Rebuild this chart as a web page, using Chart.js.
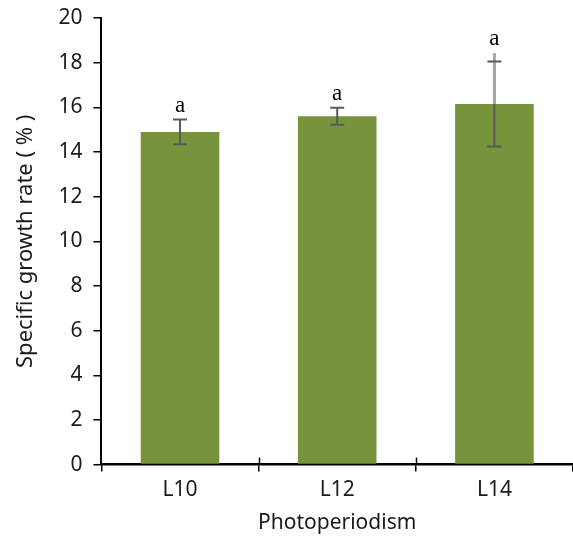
<!DOCTYPE html>
<html>
<head>
<meta charset="utf-8">
<script src="https://cdn.jsdelivr.net/npm/chart.js@4"></script>
<style>
  html, body { margin: 0; padding: 0; background: #fff; }
  #wrap { width: 573px; height: 542px; }
</style>
</head>
<body>
<div id="wrap"><canvas id="growth"></canvas></div>
<script>
const categories = ['L10', 'L12', 'L14'];
const meanRate = [14.9, 15.6, 16.15];
const errorRate = [0.55, 0.38, 1.9];
const extraError = [0, 0, 2.28];
const letters = ['a', 'a', 'a'];
const yTicks = [0, 2, 4, 6, 8, 10, 12, 14, 16, 18, 20];

const textFont = 'Noto Sans';

// error bars, group letters and the crossing category ticks
const errorBars = {
    id: 'errorBars',
    afterDatasetsDraw(chart) {
        const ctx = chart.ctx;
        const x = chart.scales.x;
        const y = chart.scales.y;
        const meta = chart.getDatasetMeta(0);
        ctx.save();
        meta.data.forEach((bar, i) => {
            const cx = bar.x;
            const top = y.getPixelForValue(meanRate[i] + errorRate[i]);
            const bottom = y.getPixelForValue(meanRate[i] - errorRate[i]);
            ctx.strokeStyle = '#595959';
            ctx.lineWidth = 2;
            ctx.beginPath();
            ctx.moveTo(cx, top);
            ctx.lineTo(cx, bottom);
            ctx.stroke();
            let highest = top;
            if (extraError[i] > 0) {
                const far = y.getPixelForValue(meanRate[i] + extraError[i]);
                ctx.strokeStyle = '#a6a6a6';
                ctx.lineWidth = 3;
                ctx.beginPath();
                ctx.moveTo(cx, bar.y);
                ctx.lineTo(cx, far);
                ctx.stroke();
                highest = Math.min(highest, far);
            }
            ctx.strokeStyle = '#595959';
            ctx.lineWidth = 2;
            ctx.beginPath();
            ctx.moveTo(cx - 7, top);
            ctx.lineTo(cx + 7, top);
            ctx.moveTo(cx - 7, bottom);
            ctx.lineTo(cx + 7, bottom);
            ctx.stroke();
            ctx.fillStyle = '#000';
            ctx.font = '23px "Liberation Serif"';
            ctx.textAlign = 'center';
            ctx.textBaseline = 'alphabetic';
            ctx.fillText(letters[i], cx, highest - 8);
        });
        // x ticks cross the axis line
        ctx.strokeStyle = '#000';
        ctx.lineWidth = 1.5;
        for (let i = 1; i < categories.length; i++) {
            const px = Math.round((x.getPixelForValue(i - 1) + x.getPixelForValue(i)) / 2) + 0.5;
            ctx.beginPath();
            ctx.moveTo(px, y.bottom - 7);
            ctx.lineTo(px, y.bottom);
            ctx.stroke();
        }
        ctx.restore();
    }
};

new Chart(document.getElementById('growth'), {
    type: 'bar',
    data: {
        labels: categories,
        datasets: [{
            data: meanRate,
            backgroundColor: '#77933c',
            borderWidth: 0,
            barPercentage: 0.5,
            categoryPercentage: 1
        }]
    },
    options: {
        responsive: true,
        maintainAspectRatio: false,
        animation: false,
        layout: { padding: { top: 18, right: 0, left: 9, bottom: 2 } },
        plugins: {
            legend: { display: false },
            tooltip: { enabled: false }
        },
        scales: {
            x: {
                offset: true,
                grid: {
                    offset: true,
                    drawOnChartArea: false,
                    color: '#000',
                    lineWidth: 1.5,
                    tickLength: 7
                },
                border: { color: '#000', width: 2.5 },
                ticks: {
                    color: '#1a1a1a',
                    font: { family: textFont, size: 21 },
                    padding: 6
                },
                title: {
                    display: true,
                    text: 'Photoperiodism',
                    color: '#1a1a1a',
                    font: { family: textFont, size: 21 },
                    padding: { top: 2 }
                }
            },
            y: {
                min: 0,
                max: 20,
                afterBuildTicks(scale) {
                    scale.ticks = yTicks.map(v => ({ value: v }));
                },
                afterFit(scale) {
                    scale.paddingTop = 0;
                },
                grid: {
                    drawOnChartArea: false,
                    color: '#000',
                    lineWidth: 1.5,
                    tickLength: 8
                },
                border: { color: '#000', width: 2 },
                ticks: {
                    color: '#1a1a1a',
                    font: { family: textFont, size: 21 },
                    padding: 11
                },
                title: {
                    display: true,
                    text: 'Specific growth rate ( % )',
                    color: '#1a1a1a',
                    font: { family: textFont, size: 22 },
                    padding: { bottom: 8 }
                }
            }
        }
    },
    plugins: [errorBars]
});
</script>
</body>
</html>
